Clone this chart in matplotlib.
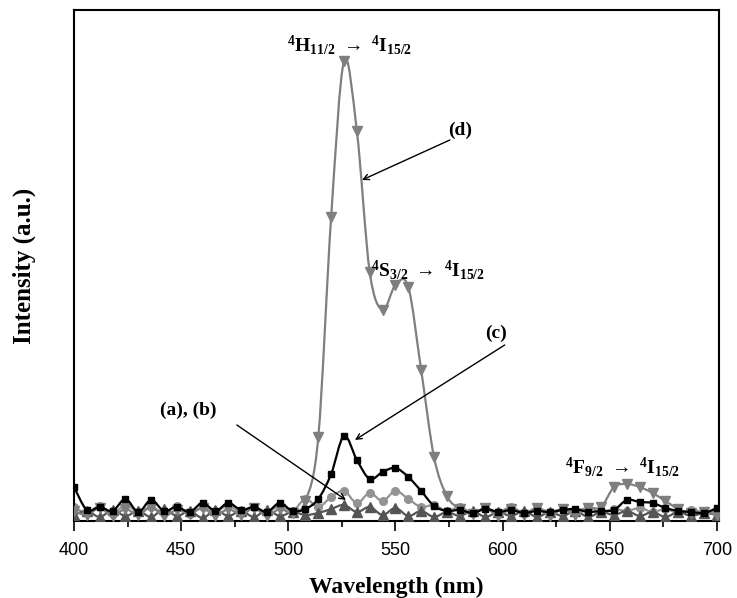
import numpy as np
import matplotlib
matplotlib.use("Agg")
import matplotlib.pyplot as plt
from matplotlib.path import Path
from matplotlib.patches import PathPatch

# wavelength grid (nm), one sample every 6 nm
wavelength = np.arange(400, 701, 6)

# (a) light gray circles
int_a = [14, 8, 15, 7, 16, 9, 14, 8, 15, 7, 14, 9, 16, 8, 14, 9, 15, 10, 22, 14,
         24, 30, 18, 28, 20, 30, 22, 14, 16, 10, 14, 8, 13, 9, 14, 8, 13, 9, 12, 10,
         13, 9, 12, 10, 13, 9, 12, 8, 11, 9, 10]
# (b) dark gray up-triangles
int_b = [6, 10, 4, 11, 5, 10, 4, 12, 5, 10, 3, 11, 5, 10, 4, 11, 5, 9, 6, 8,
         12, 16, 9, 14, 6, 13, 5, 10, 4, 9, 5, 10, 4, 9, 5, 10, 4, 9, 5, 10,
         4, 9, 6, 10, 5, 9, 4, 9, 5, 8, 6]
# (c) black squares
int_c = [34, 11, 14, 10, 22, 9, 21, 10, 14, 9, 18, 10, 18, 11, 14, 9, 18, 10, 12, 22,
         47, 85, 61, 42, 49, 53, 44, 30, 15, 10, 11, 8, 12, 9, 11, 8, 10, 9, 11, 12,
         9, 10, 11, 21, 19, 18, 13, 10, 9, 8, 13]
# (d) gray down-triangles
int_d = [10, 6, 13, 5, 12, 6, 14, 5, 11, 7, 13, 5, 12, 6, 13, 5, 12, 8, 20, 84,
         304, 460, 390, 249, 211, 236, 234, 151, 64, 25, 12, 7, 13, 5, 12, 6, 13, 5, 12, 6,
         13, 14, 34, 37, 34, 28, 20, 12, 8, 9, 6]

xticks = [400, 450, 500, 550, 600, 650, 700]

plt.rcParams['mathtext.fontset'] = 'custom'
plt.rcParams['mathtext.rm'] = 'Liberation Serif:bold'
plt.rcParams['mathtext.it'] = 'Liberation Serif:bold'
plt.rcParams['mathtext.bf'] = 'Liberation Serif:bold'


def smooth_line(ax, x, y, color, z):
    # excel-like smoothed line: bezier segments through the points
    x = np.asarray(x, float)
    y = np.asarray(y, float)
    pts = np.column_stack([x, y])
    n = len(pts)
    verts = [pts[0]]
    codes = [Path.MOVETO]
    for i in range(n - 1):
        p0 = pts[i - 1] if i > 0 else pts[i]
        p1 = pts[i]
        p2 = pts[i + 1]
        p3 = pts[i + 2] if i + 2 < n else pts[i + 1]
        c1 = p1 + (p2 - p0) / 6.0
        c2 = p2 - (p3 - p1) / 6.0
        verts += [c1, c2, p2]
        codes += [Path.CURVE4] * 3
    ax.add_patch(PathPatch(Path(verts, codes), fill=False, edgecolor=color,
                           lw=1.6, zorder=z, transform=ax.transData))


fig = plt.figure(figsize=(7.37, 5.98), dpi=100)
ax = fig.add_axes([0.1004, 0.1288, 0.8752, 0.8545])

series = [(int_a, '#939393', 'o', 5.5, 2),
          (int_b, '#555555', '^', 6.5, 3),
          (int_d, '#7f7f7f', 'v', 6.5, 4),
          (int_c, '#000000', 's', 5.0, 5)]
for vals, col, mk, ms, z in series:
    smooth_line(ax, wavelength, vals, col, z)
    ax.plot(wavelength, vals, linestyle='none', marker=mk, ms=ms, color=col,
            mec=col, zorder=z)

ax.set_xlim(400, 701)
ax.set_ylim(0, 511)
ax.set_xticks(xticks)
ax.set_xticks([425, 475, 525, 575, 625, 675], minor=True)
ax.set_yticks([])
ax.tick_params(axis='x', which='major', direction='out', length=7, width=1.2,
               labelsize=13, pad=8)
ax.tick_params(axis='x', which='minor', direction='out', length=4, width=1.2)
for lab in ax.get_xticklabels():
    lab.set_fontfamily('Liberation Sans')
for sp in ax.spines.values():
    sp.set_linewidth(1.5)

ax.set_xlabel('Wavelength (nm)', fontsize=17, fontweight='bold',
              fontfamily='Liberation Serif', labelpad=13)
ax.set_ylabel('Intensity (a.u.)', fontsize=18, fontweight='bold',
              fontfamily='Liberation Serif', labelpad=27)

tfont = dict(fontsize=14, ha='center', va='center', color='black')
ax.text(528.8, 476, r'$^{4}\mathrm{H}_{11/2}\,\,\rightarrow\,\,^{4}\mathrm{I}_{15/2}$', zorder=1, **tfont)
ax.text(565.2, 251, r'$^{4}\mathrm{S}_{3/2}\,\,\rightarrow\,\,^{4}\mathrm{I}_{15/2}$', zorder=6, **tfont)
ax.text(656.2, 54, r'$^{4}\mathrm{F}_{9/2}\,\,\rightarrow\,\,^{4}\mathrm{I}_{15/2}$', zorder=6, **tfont)

lfont = dict(fontsize=14, fontweight='bold', fontfamily='Liberation Serif')
arr = dict(arrowstyle='->', lw=1.0, color='black', shrinkA=0, shrinkB=0)
ax.text(580, 391, '(d)', ha='center', va='center', **lfont)
ax.annotate('', xy=(534.4, 341), xytext=(575.4, 381), arrowprops=arr, zorder=7)
ax.text(597, 188, '(c)', ha='center', va='center', **lfont)
ax.annotate('', xy=(531.1, 81), xytext=(601, 176), arrowprops=arr, zorder=7)
ax.text(453.2, 111, '(a), (b)', ha='center', va='center', **lfont)
ax.annotate('', xy=(526.9, 21), xytext=(476, 96), arrowprops=arr, zorder=7)

fig.savefig('out.png', dpi=100)
